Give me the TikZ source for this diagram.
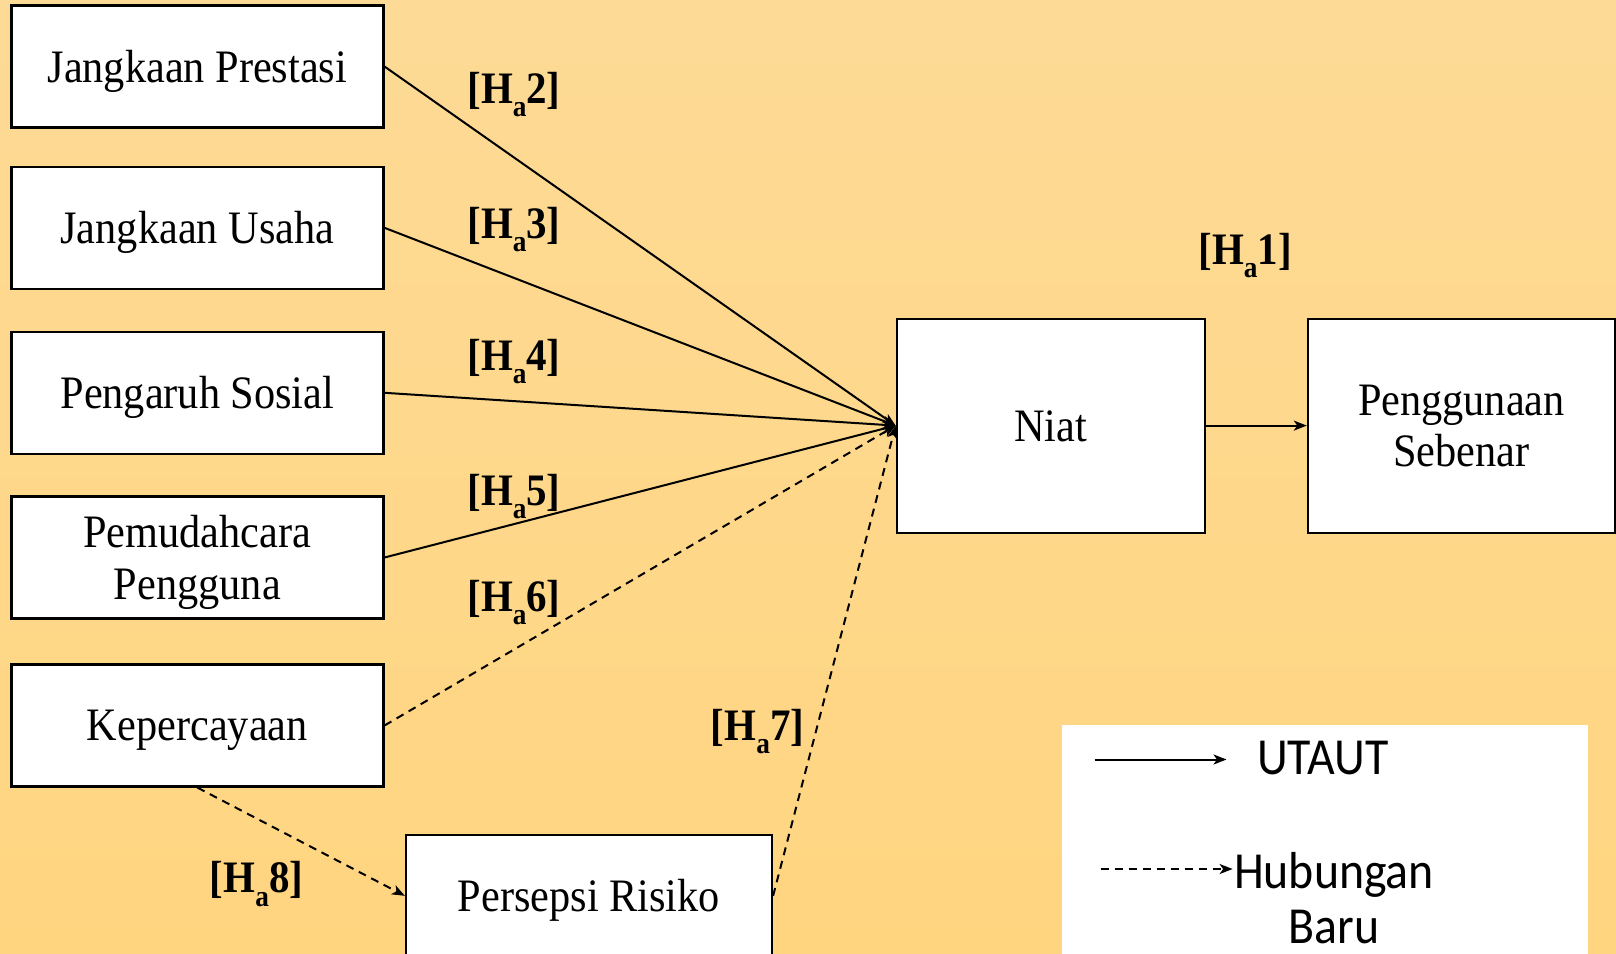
\documentclass[tikz,border=0pt]{standalone}
\usepackage{fontspec}
\setmainfont{Liberation Serif}[FakeStretch=0.91]
\newfontfamily\legendfont{Carlito}[FakeStretch=0.92]
\usetikzlibrary{arrows.meta}
\definecolor{bgtop}{RGB}{253,218,150}
\definecolor{bgbot}{RGB}{255,213,128}
\tikzset{
  box/.style={draw=black, line width=2.2pt, fill=white, inner sep=0pt, align=center,
    text depth=0pt, font=\fontsize{46.5}{51.5}\selectfont},
  link/.style={line width=2pt, -{Stealth[length=13pt,width=10pt,inset=3.5pt]}},
  newlink/.style={link, dash pattern=on 8pt off 6pt},
  hlabel/.style={font=\bfseries\fontsize{45}{45}\selectfont, inner sep=0pt},
  legtext/.style={font=\legendfont\fontsize{52}{55}\selectfont, inner sep=0pt, align=center},
}
\newcommand\hname[1]{[H\raisebox{-0.3em}{\fontsize{30}{30}\selectfont a}#1]}
\begin{document}
\begin{tikzpicture}[x=1pt,y=-1pt]
\useasboundingbox (0,0) rectangle (1616,953);
\clip (0,0) rectangle (1616,953);
\fill[top color=bgtop, bottom color=bgbot] (0,0) rectangle (1616,953);

% left column
\node[box, minimum width=372pt, minimum height=122pt] (jp) at (197.4,66.5) {Jangkaan Prestasi};
\node[box, minimum width=372pt, minimum height=122pt] (ju) at (197.4,227.8) {Jangkaan Usaha};
\node[box, minimum width=372pt, minimum height=122pt] (ps) at (197.4,392.8) {Pengaruh Sosial};
\node[box, minimum width=372pt, minimum height=122pt] (pp) at (197.4,557.5) {Pemudahcara\\Pengguna};
\node[box, minimum width=372pt, minimum height=122pt] (kp) at (197.4,725.5) {Kepercayaan};
\node[box, minimum width=366pt, minimum height=122pt] (pr) at (589,895.8) {Persepsi Risiko};

% right side
\node[box, minimum width=308pt, minimum height=214pt] (nt) at (1050.7,425.6) {Niat};
\node[box, minimum width=307pt, minimum height=214pt] (pg) at (1461.4,425.6) {Penggunaan\\Sebenar};

% legend
\fill[white] (1061.5,724.5) rectangle (1588,960);
\coordinate (l1a) at (1094.5,759.5);
\coordinate (l1b) at (1226.5,759.5);
\coordinate (l2a) at (1100.6,869);
\coordinate (l2b) at (1232.6,869);
\draw[link] (l1a) -- (l1b);
\draw[newlink] (l2a) -- (l2b);
\node[legtext, anchor=west] (lu) at (1257,757.5) {UTAUT};
\node[legtext] (lh) at (1334,898.5) {Hubungan\\Baru};

% connectors
\draw[link] (jp.east) -- (nt.west);
\draw[link] (ju.east) -- (nt.west);
\draw[link] (ps.east) -- (nt.west);
\draw[link] (pp.east) -- (nt.west);
\draw[newlink] (kp.east) -- (nt.west);
\draw[newlink] (pr.east) -- (nt.west);
\draw[newlink] (kp.south) -- (pr.west);
\draw[link] (nt.east) -- (pg.west);

% hypothesis labels
\node[hlabel] (h2) at (514,94.7) {\hname{2}};
\node[hlabel] (h3) at (514,229.7) {\hname{3}};
\node[hlabel] (h4) at (514,361.6) {\hname{4}};
\node[hlabel] (h5) at (514,496.6) {\hname{5}};
\node[hlabel] (h6) at (514,602.7) {\hname{6}};
\node[hlabel] (h7) at (757.5,731.6) {\hname{7}};
\node[hlabel] (h8) at (256.6,884) {\hname{8}};
\node[hlabel] (h1) at (1245,255.4) {\hname{1}};
\end{tikzpicture}
\end{document}
